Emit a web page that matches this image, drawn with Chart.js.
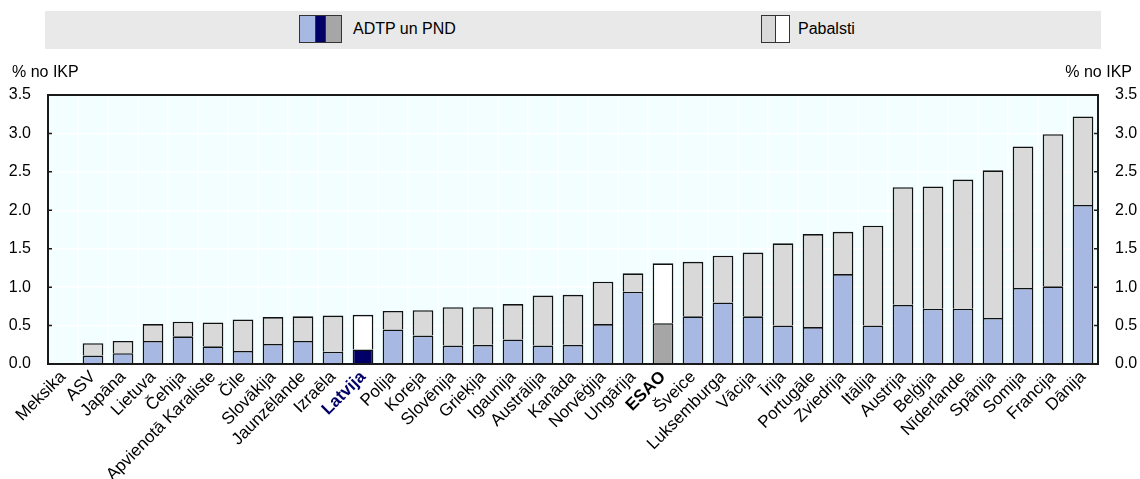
<!DOCTYPE html>
<html>
<head>
<meta charset="utf-8">
<script src="https://cdn.jsdelivr.net/npm/chart.js@4.4.1/dist/chart.umd.min.js"></script>
<style>
  html, body { margin: 0; padding: 0; background: #fff; }
  #wrap { position: relative; width: 1140px; height: 479px; font-family: "Liberation Sans", Arial, sans-serif; }
  #c { position: absolute; left: 0; top: 0; }
  .band { position: absolute; left: 45px; top: 11px; width: 1056px; height: 38px; background: #E9E9E9; }
  .sw { position: absolute; top: 15px; height: 28px; box-sizing: border-box; border: 1px solid #333; display: flex; }
  .sw span { display: block; height: 100%; box-sizing: border-box; }
  .lt { position: absolute; top: 20px; font-size: 16px; color: #000; line-height: 18px; }
  .unit { position: absolute; top: 63px; font-size: 16px; color: #000; line-height: 18px; }
</style>
</head>
<body>
<div id="wrap">
  <canvas id="c" width="1140" height="479"></canvas>
  <div class="band"></div>
  <div class="sw" style="left:299px;width:43px;">
    <span style="width:16px;background:#A7B9E3;border-right:1px solid #333;"></span>
    <span style="width:10px;background:#000066;border-right:1px solid #333;"></span>
    <span style="flex:1;background:#A6A6A6;"></span>
  </div>
  <div class="lt" style="left:353px;">ADTP un PND</div>
  <div class="sw" style="left:761px;width:29px;">
    <span style="width:14px;background:#D9D9D9;border-right:1px solid #333;"></span>
    <span style="flex:1;background:#FFFFFF;"></span>
  </div>
  <div class="lt" style="left:798px;">Pabalsti</div>
  <div class="unit" style="left:12px;">% no IKP</div>
  <div class="unit" style="right:8px;">% no IKP</div>
</div>
<script>
const categories = ["Meksika","ASV","Japāna","Lietuva","Čehija","Apvienotā Karaliste","Čile","Slovākija","Jaunzēlande","Izraēla","Latvija","Polija","Koreja","Slovēnija","Grieķija","Igaunija","Austrālija","Kanāda","Norvēģija","Ungārija","ESAO","Šveice","Luksemburga","Vācija","Īrija","Portugāle","Zviedrija","Itālija","Austrija","Beļģija","Nīderlande","Spānija","Somija","Francija","Dānija"];
const adtpPnd = [0, 0.11, 0.14, 0.30, 0.36, 0.23, 0.17, 0.26, 0.30, 0.16, 0.19, 0.45, 0.37, 0.24, 0.25, 0.32, 0.24, 0.25, 0.52, 0.94, 0.53, 0.62, 0.80, 0.62, 0.50, 0.48, 1.17, 0.50, 0.77, 0.72, 0.72, 0.60, 0.99, 1.01, 2.07];
const pabalsti = [0, 0.16, 0.16, 0.22, 0.19, 0.31, 0.41, 0.35, 0.32, 0.47, 0.45, 0.24, 0.33, 0.50, 0.49, 0.46, 0.65, 0.65, 0.55, 0.24, 0.78, 0.71, 0.61, 0.83, 1.07, 1.21, 0.55, 1.30, 1.53, 1.59, 1.68, 1.92, 1.84, 1.98, 1.15];
const yTicks = [0, 0.5, 1.0, 1.5, 2.0, 2.5, 3.0, 3.5];

const HL_LATVIA = "Latvija", HL_OECD = "ESAO";
const colA = categories.map(c => c === HL_LATVIA ? "#000066" : c === HL_OECD ? "#A6A6A6" : "#A7B9E3");
const colP = categories.map(c => (c === HL_LATVIA || c === HL_OECD) ? "#FFFFFF" : "#D9D9D9");

const framePlugin = {
  id: "frame",
  beforeDraw(chart) {
    const { ctx, chartArea: a } = chart;
    ctx.save();
    ctx.fillStyle = "#F2FEFF";
    ctx.fillRect(a.left, a.top, a.right - a.left, a.bottom - a.top);
    ctx.restore();
  },
  afterDraw(chart) {
    const { ctx, chartArea: a } = chart;
    const y = chart.scales.y;
    ctx.save();
    ctx.strokeStyle = "#1a1a1a";
    ctx.lineWidth = 2;
    ctx.strokeRect(a.left, a.top, a.right - a.left, a.bottom - a.top);
    ctx.lineWidth = 1.5;
    yTicks.forEach(v => {
      const py = y.getPixelForValue(v);
      ctx.beginPath();
      ctx.moveTo(a.left, py); ctx.lineTo(a.left + 4, py);
      ctx.moveTo(a.right, py); ctx.lineTo(a.right - 4, py);
      ctx.stroke();
    });
    ctx.restore();
  }
};

const tickFont = { family: "'Liberation Sans', Arial, sans-serif", size: 16 };

new Chart(document.getElementById("c"), {
  type: "bar",
  data: {
    labels: categories,
    datasets: [
      { label: "ADTP un PND", data: adtpPnd, backgroundColor: colA, borderColor: "#111111", borderWidth: 1.6, barPercentage: 0.69, categoryPercentage: 1 },
      { label: "Pabalsti", data: pabalsti, backgroundColor: colP, borderColor: "#111111", borderWidth: 1.6, barPercentage: 0.69, categoryPercentage: 1 }
    ]
  },
  options: {
    responsive: false,
    animation: false,
    layout: { padding: { top: 95, left: 0, right: 0, bottom: 0 } },
    plugins: { legend: { display: false }, tooltip: { enabled: false } },
    scales: {
      x: {
        stacked: true,
        grid: { color: "#FFFFFF", lineWidth: 1.5, drawTicks: false, offset: true },
        border: { display: false },
        ticks: {
          autoSkip: false, maxRotation: 45, minRotation: 45, padding: 3,
          color: ctx => categories[ctx.index] === HL_LATVIA ? "#000066" : "#000000",
          font: ctx => ({ family: "'Liberation Sans', Arial, sans-serif", size: 17,
            weight: (categories[ctx.index] === HL_LATVIA || categories[ctx.index] === HL_OECD) ? "bold" : "normal" })
        },
        afterFit(s) { s.height = 115; }
      },
      y: {
        stacked: true, position: "left", min: 0, max: 3.5,
        grid: { color: "#FFFFFF", lineWidth: 1.5, drawTicks: false },
        border: { display: false },
        ticks: { stepSize: 0.5, padding: 17, color: "#000", font: tickFont, callback: v => Number(v).toFixed(1) },
        afterFit(s) { s.width = 48; }
      },
      y2: {
        position: "right", min: 0, max: 3.5,
        grid: { display: false, drawTicks: false },
        border: { display: false },
        ticks: { stepSize: 0.5, padding: 17, color: "#000", font: tickFont, callback: v => Number(v).toFixed(1) },
        afterFit(s) { s.width = 42; }
      }
    }
  },
  plugins: [framePlugin]
});
</script>
</body>
</html>
